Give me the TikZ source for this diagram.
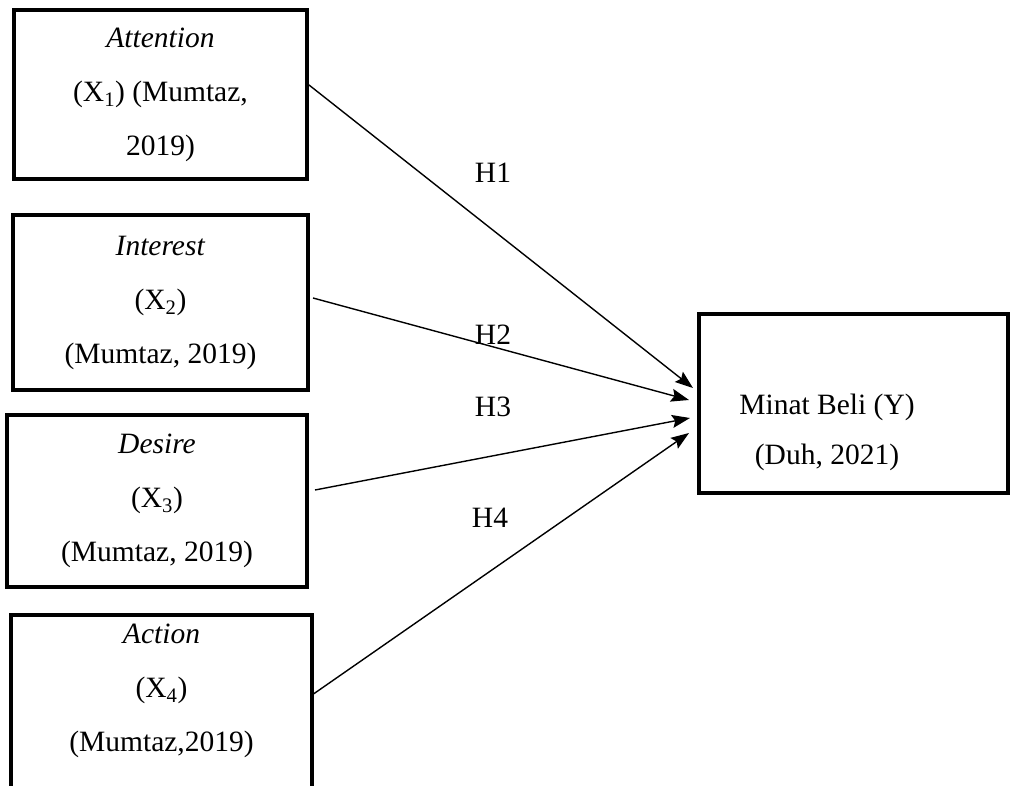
\documentclass[tikz,border=0pt]{standalone}
\usepackage{fontspec}
\setmainfont{Liberation Serif}
\usetikzlibrary{arrows.meta}

\begin{document}
\begin{tikzpicture}[x=1pt,y=-1pt,
  varbox/.style={draw,line width=4.5pt,outer sep=0pt,align=center,
    font=\fontsize{29.5}{54}\selectfont},
  hyp/.style={font=\fontsize{29.5}{35}\selectfont},
  link/.style={-{Stealth[length=18pt,width=13pt,inset=3pt]},line width=1.4pt}]
\useasboundingbox (0,0) rectangle (1012,786);
% variabel bebas
\node[varbox,minimum width=293pt,minimum height=169pt] (x1) at (160.5,94.5)
  {\textit{Attention}\\(X\textsubscript{1}) (Mumtaz,\\2019)};
\node[varbox,minimum width=295pt,minimum height=175pt] (x2) at (160.5,302.5)
  {\textit{Interest}\\(X\textsubscript{2})\\(Mumtaz, 2019)};
\node[varbox,minimum width=300pt,minimum height=172pt] (x3) at (157,501)
  {\textit{Desire}\\(X\textsubscript{3})\\(Mumtaz, 2019)};
\node[varbox,minimum width=301pt,minimum height=199pt] (x4) at (161.5,714.5)
  {\textit{Action}\\(X\textsubscript{4})\\(Mumtaz,2019)\\\mbox{}};
% variabel terikat
\node[varbox,minimum width=309pt,minimum height=179pt] (y) at (853.5,403.5) {};
\node[font=\fontsize{29.5}{50}\selectfont,align=center] (ytxt) at (827,432)
  {Minat Beli (Y)\\(Duh, 2021)};
% hipotesis
\draw[link] ([shift={(2,-9.5)}]x1.east) -- ([shift={(-6,-15.5)}]y.west);
\draw[link] ([shift={(5,-4.5)}]x2.east) -- ([shift={(-10,-3.5)}]y.west);
\draw[link] ([shift={(8,-11)}]x3.east) -- ([shift={(-9,14.5)}]y.west);
\draw[link] ([shift={(0,-19.5)}]x4.east) -- ([shift={(-10,29.5)}]y.west);
\node[hyp] (h1) at (493,173) {H1};
\node[hyp] (h2) at (493,335) {H2};
\node[hyp] (h3) at (493,407) {H3};
\node[hyp] (h4) at (490,518) {H4};
\end{tikzpicture}
\end{document}
